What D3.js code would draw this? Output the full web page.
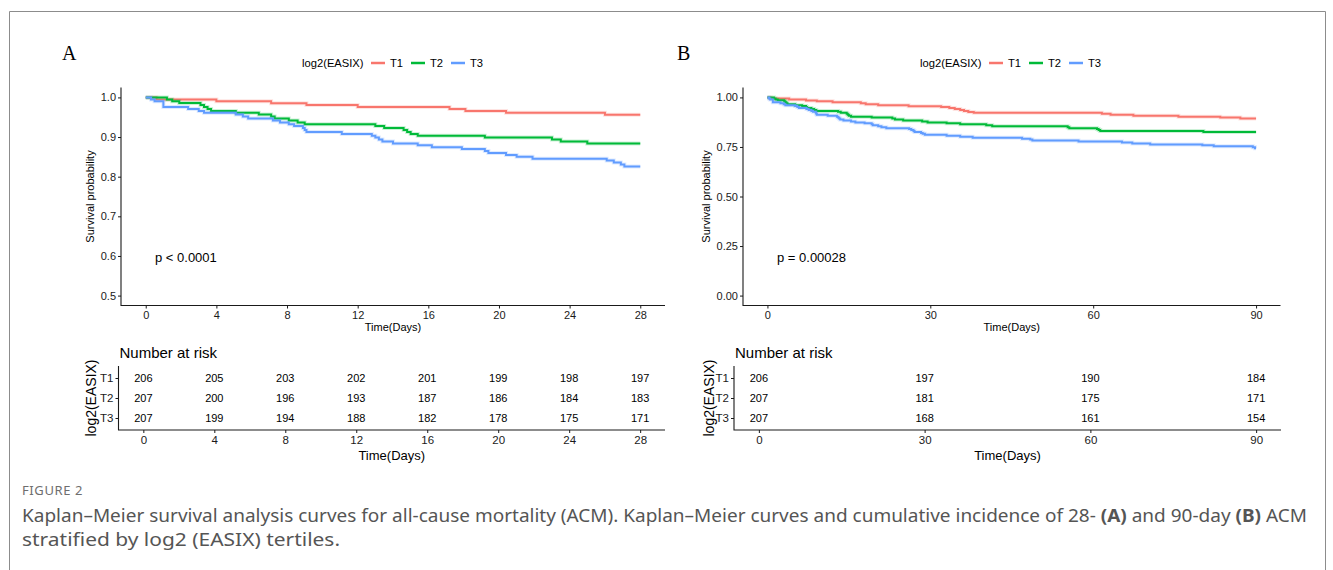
<!DOCTYPE html>
<html>
<head>
<meta charset="utf-8">
<style>
    body { margin: 0; background: #fff; }
    svg { display: block; font-family: 'Liberation Sans', Arial, sans-serif; }
    .tick text { fill: #1a1a1a; }
    .tick line { stroke: #1a1a1a; }
</style>
</head>
<body>
<svg width="1333" height="570"></svg>

<script src="https://d3js.org/d3.v7.min.js"></script>
<script>
    // strata
    let groups = ["T1", "T2", "T3"];
    let colors = ["#F8766D", "#00BA38", "#619CFF"];

    // panel A: 28-day Kaplan-Meier steps [day, survival]
    let t1A = [[0,1],[0.6,0.995],[4.0,0.990],[7.1,0.985],[9.1,0.981],[12.0,0.976],[17.2,0.971],[18.1,0.966],[20.4,0.961],[26.0,0.956],[28,0.956]];
    let t2A = [[0,1],[1.2,0.995],[1.5,0.990],[1.9,0.986],[3.1,0.981],[3.3,0.976],[3.5,0.971],[3.7,0.966],[5.1,0.961],[6.4,0.957],[7.1,0.952],[7.3,0.947],[8.1,0.942],[8.6,0.937],[9.0,0.932],[13.0,0.928],[13.5,0.923],[14.6,0.918],[14.8,0.913],[15.0,0.908],[15.4,0.903],[19.2,0.899],[23.0,0.894],[23.5,0.889],[25.0,0.884],[28,0.884]];
    let t3A = [[0,1],[0.3,0.995],[0.5,0.990],[1.0,0.976],[2.4,0.971],[3.0,0.966],[3.3,0.961],[5.1,0.957],[5.5,0.952],[5.8,0.947],[7.2,0.942],[7.6,0.937],[8.1,0.932],[8.4,0.928],[8.9,0.923],[9.0,0.918],[9.1,0.913],[11.1,0.908],[12.8,0.903],[13.0,0.899],[13.2,0.894],[13.4,0.889],[14.0,0.884],[15.4,0.879],[16.2,0.874],[17.9,0.870],[19.2,0.865],[19.4,0.860],[20.4,0.855],[21.0,0.850],[21.9,0.845],[26.1,0.841],[26.5,0.836],[26.9,0.831],[27.1,0.826],[28,0.826]];

    // panel B: 90-day Kaplan-Meier steps
    let t1B = [[0,1],[0.6,0.995],[4.0,0.990],[7.1,0.985],[9.1,0.981],[12.0,0.976],[17.2,0.971],[18.1,0.966],[20.4,0.961],[26.0,0.956],[32.0,0.951],[33.5,0.946],[34.5,0.942],[35.5,0.937],[36.2,0.932],[37.0,0.927],[38.0,0.922],[61.6,0.917],[63.2,0.912],[67.4,0.907],[75.7,0.903],[83.4,0.898],[87.1,0.893],[90,0.893]];
    let t2B = [[0,1],[1.2,0.995],[1.5,0.990],[1.9,0.986],[3.1,0.981],[3.3,0.976],[3.5,0.971],[3.7,0.966],[5.1,0.961],[6.4,0.957],[7.1,0.952],[7.3,0.947],[8.1,0.942],[8.6,0.937],[9.0,0.932],[13.0,0.928],[13.5,0.923],[14.6,0.918],[14.8,0.913],[15.0,0.908],[15.4,0.903],[19.2,0.899],[23.0,0.894],[23.5,0.889],[25.0,0.884],[28.5,0.879],[29.5,0.874],[33.0,0.869],[35.5,0.865],[40.3,0.860],[41.4,0.855],[55.3,0.850],[55.6,0.845],[60.7,0.841],[61.0,0.836],[61.3,0.831],[80.3,0.826],[90,0.826]];
    let t3B = [[0,1],[0.3,0.995],[0.5,0.990],[1.0,0.976],[2.4,0.971],[3.0,0.966],[3.3,0.961],[5.1,0.957],[5.5,0.952],[5.8,0.947],[7.2,0.942],[7.6,0.937],[8.1,0.932],[8.4,0.928],[8.9,0.923],[9.0,0.918],[9.1,0.913],[11.1,0.908],[12.8,0.903],[13.0,0.899],[13.2,0.894],[13.4,0.889],[14.0,0.884],[15.4,0.879],[16.2,0.874],[17.9,0.870],[19.2,0.865],[19.4,0.860],[20.4,0.855],[21.0,0.850],[21.9,0.845],[26.1,0.841],[26.5,0.836],[26.9,0.831],[27.1,0.826],[28.3,0.821],[28.6,0.817],[29.0,0.812],[33.0,0.807],[35.5,0.802],[37.8,0.797],[46.9,0.792],[48.4,0.787],[48.8,0.783],[57.3,0.778],[65.3,0.773],[67.2,0.768],[70.5,0.763],[80.1,0.758],[82.2,0.754],[89.4,0.749],[89.8,0.744],[90,0.744]];

    // number at risk tables
    let riskTimesA = [0, 4, 8, 12, 16, 20, 24, 28];
    let riskT1A = [206, 205, 203, 202, 201, 199, 198, 197];
    let riskT2A = [207, 200, 196, 193, 187, 186, 184, 183];
    let riskT3A = [207, 199, 194, 188, 182, 178, 175, 171];

    let riskTimesB = [0, 30, 60, 90];
    let riskT1B = [206, 197, 190, 184];
    let riskT2B = [207, 181, 175, 171];
    let riskT3B = [207, 168, 161, 154];

    // axis ticks
    let yTicksA = [0.5, 0.6, 0.7, 0.8, 0.9, 1.0];
    let yTicksB = [0, 0.25, 0.5, 0.75, 1.0];

    let svg = d3.select("svg");

    // figure frame
    svg.append("path")
        .attr("d", "M9.5,570 V11.5 H1325.5 V570")
        .attr("fill", "none")
        .attr("stroke", "#8c8c8c");

    function drawPanel(cfg) {
        let g = svg.append("g");
        let x = d3.scaleLinear().domain(cfg.xDomain).range(cfg.xRange);
        let y = d3.scaleLinear().domain(cfg.yDomain).range([305.5, 87.5]);

        // panel letter
        g.append("text")
            .attr("x", cfg.letterX).attr("y", 60)
            .style("font-family", "'Liberation Serif', 'Times New Roman', serif")
            .style("font-size", "20px")
            .text(cfg.letter);

        // legend
        let leg = g.append("g").attr("transform", "translate(" + cfg.legendX + ",63)");
        leg.append("text").attr("dy", "0.35em").style("font-size", "11.2px").text("log2(EASIX)");
        groups.forEach((k, i) => {
            leg.append("line")
                .attr("x1", 69 + i * 40).attr("x2", 83 + i * 40)
                .attr("stroke", colors[i]).attr("stroke-width", 2.5);
            leg.append("text")
                .attr("x", 88 + i * 40).attr("dy", "0.35em")
                .style("font-size", "11.2px").text(k);
        });

        // axes
        let gx = g.append("g").attr("transform", "translate(0,305.5)")
            .call(d3.axisBottom(x).tickValues(cfg.xTicks).tickSize(3).tickPadding(3).tickSizeOuter(0));
        gx.select(".domain").remove();
        gx.selectAll("text").style("font-size", "11px");

        let gy = g.append("g").attr("transform", "translate(" + cfg.xRange[0] + ",0)")
            .call(d3.axisLeft(y).tickValues(cfg.yTicks).tickFormat(d3.format(cfg.yFormat)).tickSize(3).tickPadding(2).tickSizeOuter(0));
        gy.select(".domain").remove();
        gy.selectAll("text").style("font-size", "11px");

        g.append("path")
            .attr("d", "M" + cfg.xRange[0] + ",87.5 V305.5 H" + cfg.xRange[1])
            .attr("fill", "none").attr("stroke", "#1a1a1a").attr("stroke-width", 1.1);

        // survival curves
        let line = d3.line()
            .x(d => x(d[0]))
            .y(d => y(d[1]))
            .curve(d3.curveStepAfter);

        cfg.curves.forEach((c, i) => {
            g.append("path").attr("d", line(c))
                .attr("fill", "none").attr("stroke", colors[i])
                .attr("stroke-width", 4).attr("stroke-opacity", 0.2);
            g.append("path").attr("d", line(c))
                .attr("fill", "none").attr("stroke", colors[i])
                .attr("stroke-width", 2);
        });

        // p value
        g.append("text")
            .attr("x", cfg.pX).attr("y", 261.5)
            .style("font-size", "13px")
            .text(cfg.pText);

        // axis titles
        g.append("text")
            .attr("x", (cfg.xRange[0] + cfg.xRange[1]) / 2).attr("y", 331)
            .attr("text-anchor", "middle").style("font-size", "11px")
            .text("Time(Days)");
        g.append("text")
            .attr("transform", "translate(" + cfg.ylabX + ",196.5) rotate(-90)")
            .attr("dy", "0.35em")
            .attr("text-anchor", "middle").style("font-size", "11px")
            .text("Survival probability");

        // risk table
        let tx = d3.scaleLinear().domain(cfg.xDomain).range(cfg.tRange);
        let ty = d3.scalePoint().domain(groups).range([378, 418]);

        g.append("text")
            .attr("x", cfg.tRange[0] + 1).attr("y", 357.5)
            .style("font-size", "15px")
            .text("Number at risk");

        let tgx = g.append("g").attr("transform", "translate(0,430)")
            .call(d3.axisBottom(tx).tickValues(cfg.riskTimes).tickSize(3).tickPadding(3).tickSizeOuter(0));
        tgx.select(".domain").remove();
        tgx.selectAll("text").style("font-size", "11.5px");

        let tgy = g.append("g").attr("transform", "translate(" + cfg.tRange[0] + ",0)")
            .call(d3.axisLeft(ty).tickSize(3).tickPadding(2).tickSizeOuter(0));
        tgy.select(".domain").remove();
        tgy.selectAll("text").style("font-size", "11.5px");

        g.append("path")
            .attr("d", "M" + cfg.tRange[0] + ",366 V430 H" + cfg.tRange[1])
            .attr("fill", "none").attr("stroke", "#1a1a1a").attr("stroke-width", 1.1);

        cfg.risk.forEach((row, i) => {
            g.append("g")
                .selectAll("text")
                .data(row)
                .join("text")
                .attr("x", (d, j) => tx(cfg.riskTimes[j]))
                .attr("y", ty(groups[i]))
                .attr("dy", "0.35em")
                .attr("text-anchor", "middle")
                .style("font-size", "11px")
                .text(d => d);
        });

        g.append("text")
            .attr("x", (cfg.tRange[0] + cfg.tRange[1]) / 2).attr("y", 459.5)
            .attr("text-anchor", "middle").style("font-size", "13px")
            .text("Time(Days)");
        g.append("text")
            .attr("transform", "translate(" + cfg.tYlabX + ",398) rotate(-90)")
            .attr("dy", "0.35em")
            .attr("text-anchor", "middle").style("font-size", "14px")
            .text("log2(EASIX)");
    }

    drawPanel({
        letter: "A", letterX: 62, legendX: 302,
        xDomain: [-1.4, 29.4], xRange: [121, 665], tRange: [118.5, 665],
        xTicks: riskTimesA, riskTimes: riskTimesA,
        yDomain: [0.475, 1.025], yTicks: yTicksA, yFormat: ".1f",
        curves: [t1A, t2A, t3A],
        risk: [riskT1A, riskT2A, riskT3A],
        pText: "p < 0.0001", pX: 155,
        ylabX: 90, tYlabX: 91
    });

    drawPanel({
        letter: "B", letterX: 677, legendX: 920,
        xDomain: [-4.5, 94.5], xRange: [743, 1280.5], tRange: [734, 1281],
        xTicks: riskTimesB, riskTimes: riskTimesB,
        yDomain: [-0.05, 1.05], yTicks: yTicksB, yFormat: ".2f",
        curves: [t1B, t2B, t3B],
        risk: [riskT1B, riskT2B, riskT3B],
        pText: "p = 0.00028", pX: 777,
        ylabX: 706, tYlabX: 709
    });

    // caption (condensed look: line 1 squeezed to the reference line length)
    let cap = svg.append("g").style("font-family", "'Noto Sans', 'Open Sans', sans-serif");
    cap.append("text")
        .attr("x", 22).attr("y", 495)
        .style("font-size", "13px").style("letter-spacing", "0.6px")
        .attr("fill", "#6e6e6e")
        .text("FIGURE 2");

    let line1 = cap.append("text").attr("x", 22).attr("y", 521.5)
        .attr("fill", "#555").style("font-size", "18px")
        .attr("textLength", 1285)
        .attr("lengthAdjust", "spacingAndGlyphs");
    line1.append("tspan").text("Kaplan\u2013Meier survival analysis curves for all-cause mortality (ACM). Kaplan\u2013Meier curves and cumulative incidence of 28- ");
    line1.append("tspan").style("font-weight", "bold").text("(A)");
    line1.append("tspan").text(" and 90-day ");
    line1.append("tspan").style("font-weight", "bold").text("(B)");
    line1.append("tspan").text(" ACM");

    cap.append("text").attr("x", 22).attr("y", 545.5)
        .attr("fill", "#555").style("font-size", "18px")
        .attr("textLength", 318)
        .attr("lengthAdjust", "spacingAndGlyphs")
        .text("stratified by log2 (EASIX) tertiles.");
</script>
</body>
</html>
